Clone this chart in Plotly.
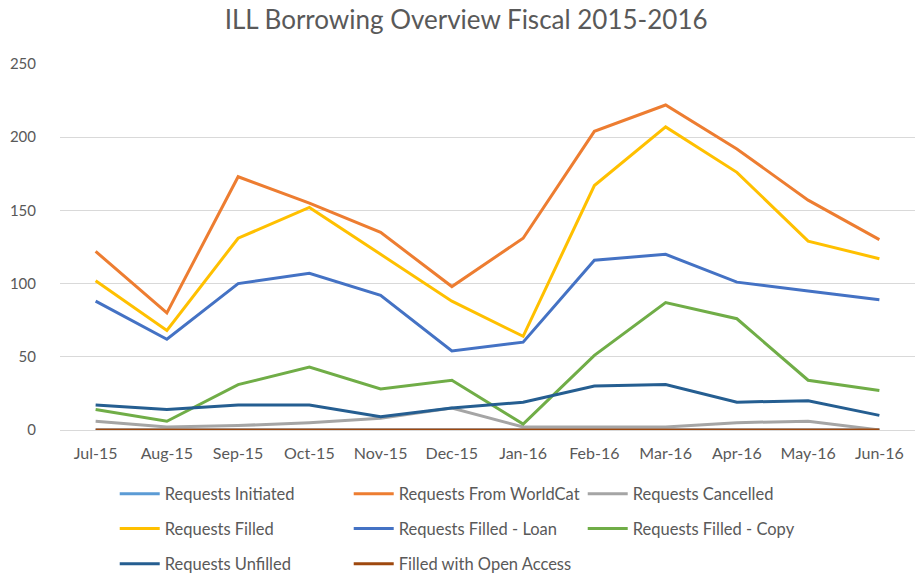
import plotly.graph_objects as go

months = ["Jul-15", "Aug-15", "Sep-15", "Oct-15", "Nov-15", "Dec-15",
          "Jan-16", "Feb-16", "Mar-16", "Apr-16", "May-16", "Jun-16"]

requests_initiated = [0, 0, 0, 0, 0, 0, 0, 0, 0, 0, 0, 0]
requests_worldcat = [122, 80, 173, 155, 135, 98, 131, 204, 222, 192, 157, 130]
requests_cancelled = [6, 2, 3, 5, 8, 15, 2, 2, 2, 5, 6, 0]
requests_filled = [102, 68, 131, 152, 120, 88, 64, 167, 207, 176, 129, 117]
filled_loan = [88, 62, 100, 107, 92, 54, 60, 116, 120, 101, 95, 89]
filled_copy = [14, 6, 31, 43, 28, 34, 4, 51, 87, 76, 34, 27]
requests_unfilled = [17, 14, 17, 17, 9, 15, 19, 30, 31, 19, 20, 10]
open_access = [0, 0, 0, 0, 0, 0, 0, 0, 0, 0, 0, 0]

series = [
    ("Requests Initiated", requests_initiated, "#5B9BD5", "legend"),
    ("Requests From WorldCat", requests_worldcat, "#ED7D31", "legend"),
    ("Requests Cancelled", requests_cancelled, "#A5A5A5", "legend"),
    ("Requests Filled", requests_filled, "#FFC000", "legend2"),
    ("Requests Filled - Loan", filled_loan, "#4472C4", "legend2"),
    ("Requests Filled - Copy", filled_copy, "#70AD47", "legend2"),
    ("Requests Unfilled", requests_unfilled, "#255E91", "legend3"),
    ("Filled with Open Access", open_access, "#9E480E", "legend3"),
]

fig = go.Figure()
for name, vals, color, lg in series:
    fig.add_trace(go.Scatter(
        x=months, y=vals, name=name, mode="lines",
        line=dict(color=color, width=3), legend=lg,
    ))

font_family = "Lato, 'Open Sans', sans-serif"
legend_common = dict(
    orientation="h", xanchor="left", yanchor="middle",
    x=0.064, entrywidth=179, entrywidthmode="pixels",
    font=dict(size=16.5, color="#595959", family=font_family),
    bgcolor="rgba(0,0,0,0)", itemwidth=40,
)

fig.update_layout(
    width=915, height=575,
    paper_bgcolor="white", plot_bgcolor="white",
    margin=dict(l=60, r=0, t=64, b=145, autoexpand=False),
    font=dict(family=font_family, color="#595959"),
    title=dict(text="ILL Borrowing Overview Fiscal 2015-2016",
               x=0.475, xref="paper", xanchor="center",
               y=0.965, yanchor="middle",
               font=dict(size=26, color="#595959", family=font_family)),
    xaxis=dict(
        type="category", range=[-0.5, 11.5],
        showgrid=False, showline=True, linecolor="#D9D9D9", linewidth=1,
        ticks="", ticklabelstandoff=9,
        tickfont=dict(size=16, color="#595959"),
    ),
    yaxis=dict(
        range=[0, 250], dtick=50, showgrid=True, gridcolor="#D9D9D9",
        gridwidth=1, zeroline=False, showline=False, ticks="",
        ticklabelstandoff=23,
        tickfont=dict(size=15, color="#595959"),
    ),
    legend=dict(y=-0.175, **legend_common),
    legend2=dict(y=-0.27, **legend_common),
    legend3=dict(y=-0.366, **legend_common),
)

fig.write_html(
    "out.html",
    config={"displayModeBar": False},
    post_script="document.body.style.margin='0';document.body.style.overflow='hidden';",
)
